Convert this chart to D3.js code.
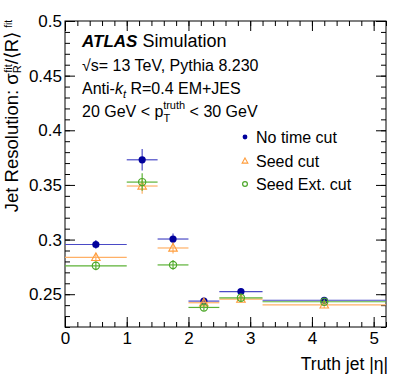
<!DOCTYPE html>
<html>
<head>
<meta charset="utf-8">
<script src="https://cdn.jsdelivr.net/npm/d3@7"></script>
<style>
  body { margin: 0; background: #fff; }
  text { font-family: "Liberation Sans", Arial, sans-serif; fill: #000; }
</style>
</head>
<body>
<div id="chart"></div>
<script>
// Bins in |eta| and the resolution values
const binLo = [0, 1, 1.5, 2, 2.5, 3.2];
const binHi = [1, 1.5, 2, 2.5, 3.2, 5.2];
const noTimeCut = [0.2955, 0.373, 0.3005, 0.2437, 0.2524, 0.2445];
const noTimeCutErr = [0.004, 0.0098, 0.005, 0.003, 0.003, 0.002];
const seedCut = [0.2837, 0.349, 0.2923, 0.2422, 0.2455, 0.2403];
const seedCutErr = [0.004, 0.007, 0.005, 0.003, 0.003, 0.003];
const seedExtCut = [0.2760, 0.3526, 0.2768, 0.2379, 0.2467, 0.2431];
const seedExtCutErr = [0.004, 0.008, 0.0045, 0.003, 0.003, 0.002];
const seriesNames = ['No time cut', 'Seed cut', 'Seed Ext. cut'];
const xTicks = [0, 1, 2, 3, 4, 5];
const yTicks = [0.25, 0.3, 0.35, 0.4, 0.45, 0.5];

const W = 407, H = 391;
const margin = {top: 21, right: 21, bottom: 64, left: 65};
const width = W - margin.left - margin.right;
const height = H - margin.top - margin.bottom;

const x = d3.scaleLinear().domain([0, 5.2]).range([0, width]);
const y = d3.scaleLinear().domain([0.22, 0.5]).range([height, 0]);

const svg = d3.select('#chart').append('svg')
  .attr('width', W).attr('height', H);
const g = svg.append('g')
  .attr('transform', 'translate(' + margin.left + ',' + margin.top + ')');

// minor tick positions
const xMinor = d3.range(0, 5.2001, 0.2).map(v => +v.toFixed(2));
const yMinor = d3.range(0.22, 0.5001, 0.01).map(v => +v.toFixed(3));

function styleAxis(sel) {
  sel.select('.domain').remove();
  sel.selectAll('line').attr('stroke', '#000');
}

// bottom / top
g.append('g').attr('transform', 'translate(0,' + height + ')')
  .call(d3.axisBottom(x).tickValues(xMinor).tickSize(-5).tickFormat(''))
  .call(styleAxis);
g.append('g').attr('transform', 'translate(0,' + height + ')')
  .call(d3.axisBottom(x).tickValues(xTicks).tickSize(-10).tickPadding(5).tickFormat(d3.format('d')))
  .call(styleAxis)
  .selectAll('text').attr('font-size', 17).attr('font-family', '"Liberation Sans", Arial, sans-serif');
g.append('g')
  .call(d3.axisTop(x).tickValues(xMinor).tickSize(-5).tickFormat(''))
  .call(styleAxis);
g.append('g')
  .call(d3.axisTop(x).tickValues(xTicks).tickSize(-10).tickFormat(''))
  .call(styleAxis);

// left / right
g.append('g')
  .call(d3.axisLeft(y).tickValues(yMinor).tickSize(-5).tickFormat(''))
  .call(styleAxis);
g.append('g')
  .call(d3.axisLeft(y).tickValues(yTicks).tickSize(-10).tickPadding(3).tickFormat(d3.format('~g')))
  .call(styleAxis)
  .selectAll('text').attr('font-size', 17).attr('font-family', '"Liberation Sans", Arial, sans-serif');
g.append('g').attr('transform', 'translate(' + width + ',0)')
  .call(d3.axisRight(y).tickValues(yMinor).tickSize(-5).tickFormat(''))
  .call(styleAxis);
g.append('g').attr('transform', 'translate(' + width + ',0)')
  .call(d3.axisRight(y).tickValues(yTicks).tickSize(-10).tickFormat(''))
  .call(styleAxis);

// frame
g.append('rect').attr('width', width).attr('height', height)
  .attr('fill', 'none').attr('stroke', '#000').attr('stroke-width', 1);

// series
const series = [
  {name: seriesNames[0], vals: noTimeCut, errs: noTimeCutErr, marker: '#00009c', line: '#4a4ac6', shape: 'dot'},
  {name: seriesNames[1], vals: seedCut, errs: seedCutErr, marker: '#ff9d3c', line: '#ffb066', shape: 'tri'},
  {name: seriesNames[2], vals: seedExtCut, errs: seedExtCutErr, marker: '#4da82a', line: '#5cb236', shape: 'ring'}
];

function drawMarker(sel, shape, color, r) {
  if (shape === 'dot') {
    sel.append('circle').attr('r', r).attr('fill', color);
  } else if (shape === 'ring') {
    sel.append('circle').attr('r', r).attr('fill', 'none').attr('stroke', color).attr('stroke-width', 1.2);
  } else {
    const s = r * 1.25;
    sel.append('path')
      .attr('d', 'M0,' + (-s) + 'L' + (s * 0.95) + ',' + (s * 0.7) + 'L' + (-s * 0.95) + ',' + (s * 0.7) + 'Z')
      .attr('fill', 'none').attr('stroke', color).attr('stroke-width', 1.1);
  }
}

series.forEach(s => {
  const pts = s.vals.map((v, i) => ({lo: binLo[i], hi: binHi[i], v: v, e: s.errs[i]}));
  const sg = g.append('g');
  sg.selectAll('.hbar').data(pts).enter().append('line')
    .attr('x1', d => x(d.lo)).attr('x2', d => x(d.hi))
    .attr('y1', d => y(d.v)).attr('y2', d => y(d.v))
    .attr('stroke', s.line).attr('stroke-width', 1.2);
  sg.selectAll('.vbar').data(pts).enter().append('line')
    .attr('x1', d => x((d.lo + d.hi) / 2)).attr('x2', d => x((d.lo + d.hi) / 2))
    .attr('y1', d => y(d.v - d.e)).attr('y2', d => y(d.v + d.e))
    .attr('stroke', s.line).attr('stroke-width', 1.2);
  pts.forEach(d => {
    const m = sg.append('g')
      .attr('transform', 'translate(' + x((d.lo + d.hi) / 2) + ',' + y(d.v) + ')');
    drawMarker(m, s.shape, s.marker, 3.6);
  });
});

// legend
const legendY = [137, 161, 184];
series.forEach((s, i) => {
  const m = svg.append('g').attr('transform', 'translate(245,' + legendY[i] + ')');
  drawMarker(m, s.shape, s.marker, 2.4);
  svg.append('text').attr('x', 256).attr('y', legendY[i] + 6)
    .attr('font-size', 16).text(s.name);
});

// ATLAS label block
const lab = svg.append('text').attr('x', 82).attr('y', 47).attr('font-size', 17);
lab.append('tspan').attr('font-weight', 'bold').attr('font-style', 'italic').text('ATLAS');
lab.append('tspan').attr('dx', 5).attr('font-size', 18).text('Simulation');

svg.append('text').attr('x', 82).attr('y', 71).attr('font-size', 16)
  .text('\u221As= 13 TeV, Pythia 8.230');

const l3 = svg.append('text').attr('x', 82).attr('y', 94).attr('font-size', 16);
l3.append('tspan').text('Anti-');
l3.append('tspan').attr('font-style', 'italic').text('k');
l3.append('tspan').attr('font-style', 'italic').attr('font-size', 11).attr('dy', 4).text('t');
l3.append('tspan').attr('dy', -4).text(' R=0.4 EM+JES');

const l4 = svg.append('text').attr('x', 82).attr('y', 117).attr('font-size', 16);
l4.append('tspan').text('20 GeV < p');
l4.append('tspan').attr('font-size', 11).attr('dy', 5).text('T');
l4.append('tspan').attr('font-size', 11).attr('dx', -7).attr('dy', -13).text('truth');
l4.append('tspan').attr('dy', 8).text(' < 30 GeV');

// axis titles
svg.append('text').attr('x', 388).attr('y', 370).attr('text-anchor', 'end')
  .attr('font-size', 17.5).text('Truth jet |\u03B7|');

const yl = svg.append('text')
  .attr('transform', 'translate(18,20) rotate(-90)')
  .attr('text-anchor', 'end').attr('font-size', 18.5);
yl.append('tspan').text('Jet Resolution: \u03C3');
yl.append('tspan').attr('font-size', 11).attr('dy', 3).text('R');
yl.append('tspan').attr('font-size', 11).attr('dx', -7.5).attr('dy', -9).text('fit');
yl.append('tspan').attr('dy', 6).text('/\u27E8R\u27E9');
yl.append('tspan').attr('font-size', 10).attr('dx', 4).attr('dy', -6).text('fit');
</script>
</body>
</html>
